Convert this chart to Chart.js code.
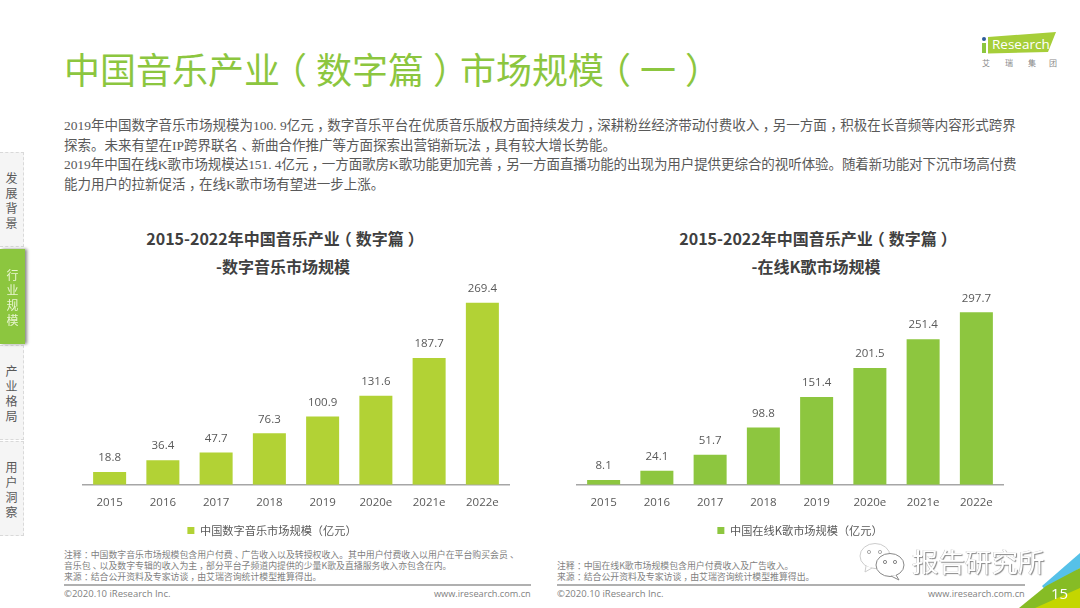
<!DOCTYPE html>
<html lang="zh">
<head>
<meta charset="utf-8">
<title>中国音乐产业（数字篇）市场规模（一）</title>
<script src="https://cdn.jsdelivr.net/npm/chart.js@4/dist/chart.umd.min.js"></script>
<style>
    html, body { margin: 0; padding: 0; background: #fff; }
    body { position: relative; width: 1080px; height: 608px; overflow: hidden; font-family: "Noto Sans CJK SC", sans-serif; }
    .abs { position: absolute; white-space: nowrap; }
    canvas { position: absolute; }

    /* the slide's punctuation sits centred in its full-width cell */
    .pc { display: inline-block; width: 1em; text-align: center; font-family: "Noto Sans CJK SC", sans-serif; font-feature-settings: "halt"; }

    #title { left: 64px; top: 41px; font-size: 36px; line-height: 54px; color: #8CC63F; font-weight: 400; }

    .body-line { left: 64px; font-size: 13.5px; line-height: 20px; color: #595959; font-family: "Liberation Serif", "Noto Sans CJK SC", serif; }

    .chart-title { font-size: 16px; line-height: 28px; font-weight: 700; color: #404040; text-align: center; transform: translateX(-50%); }

    .note { font-size: 8.9px; line-height: 11px; color: #7f7f7f; }
    .foot-line { height: 1.5px; background: #b0b0b0; top: 584px; }
    .foot { top: 587px; font-size: 9.5px; line-height: 14px; color: #7f7f7f; font-family: "Open Sans", sans-serif; }
    .foot.url { font-size: 9.2px; }

    .tab { position: absolute; left: 0; width: 24px; height: 95px; background: #f5f5f5; border: 1px dashed #d9d9d9; border-left: 0; box-sizing: border-box; color: #595959; font-size: 12px; line-height: 15px; text-align: center; display: flex; align-items: center; justify-content: center; }
    .tab.active { background: #8CC63F; color: #e8f5d0; border: 0; width: 25px; box-shadow: 2px 0 3px #888; z-index: 2; }

    #corner, #logo, #wechat { position: absolute; }
    #pageno { left: 1051px; top: 583px; font-size: 15px; line-height: 20px; color: #fff; font-family: "Open Sans", sans-serif; }
    #mark { left: 912px; top: 542px; font-size: 26.5px; line-height: 38px; color: #fff; text-shadow: 1px 1px 1px #888, -0.5px -0.5px 0 #bbb; }
</style>
</head>
<body>

<div class="abs wrap" id="title">中国音乐产业（数字篇）市场规模（一）</div>

<div class="abs body-line wrap" style="top:114px">2019年中国数字音乐市场规模为100. 9亿元，数字音乐平台在优质音乐版权方面持续发力，深耕粉丝经济带动付费收入，另一方面，积极在长音频等内容形式跨界</div>
<div class="abs body-line wrap" style="top:134px">探索。未来有望在IP跨界联名、新曲合作推广等方面探索出营销新玩法，具有较大增长势能。</div>
<div class="abs body-line wrap" style="top:153px;letter-spacing:-0.07px">2019年中国在线K歌市场规模达151. 4亿元，一方面歌房K歌功能更加完善，另一方面直播功能的出现为用户提供更综合的视听体验。随着新功能对下沉市场高付费</div>
<div class="abs body-line wrap" style="top:173px">能力用户的拉新促活，在线K歌市场有望进一步上涨。</div>

<div class="tab" style="top:152px">发<br>展<br>背<br>景</div>
<div class="tab active" style="top:249px">行<br>业<br>规<br>模</div>
<div class="tab" style="top:345px">产<br>业<br>格<br>局</div>
<div class="tab" style="top:441px">用<br>户<br>洞<br>察</div>

<div class="abs chart-title wrap" style="left:283px;top:224px">2015-2022年中国音乐产业（数字篇）<br>-数字音乐市场规模</div>
<div class="abs chart-title wrap" style="left:816px;top:224px">2015-2022年中国音乐产业（数字篇）<br>-在线K歌市场规模</div>

<canvas id="musicChart" width="538" height="275" style="left:0;top:271px"></canvas>
<canvas id="karaokeChart" width="470" height="275" style="left:560px;top:271px"></canvas>

<div class="abs note wrap" style="left:64px;top:549px">注释：中国数字音乐市场规模包含用户付费、广告收入以及转授权收入。其中用户付费收入以用户在平台购买会员、<br>音乐包、以及数字专辑的收入为主，部分平台子频道内提供的少量K歌及直播服务收入亦包含在内。<br>来源：结合公开资料及专家访谈，由艾瑞咨询统计模型推算得出。</div>
<div class="abs note wrap" style="left:557px;top:560px">注释：中国在线K歌市场规模包含用户付费收入及广告收入。<br>来源：结合公开资料及专家访谈，由艾瑞咨询统计模型推算得出。</div>

<div class="abs foot-line" style="left:64px;width:467px"></div>
<div class="abs foot-line" style="left:557px;width:468px"></div>
<div class="abs foot" style="left:64px">©2020.10 iResearch Inc.</div>
<div class="abs foot url" style="left:434px">www.iresearch.com.cn</div>
<div class="abs foot" style="left:557px">©2020.10 iResearch Inc.</div>
<div class="abs foot url" style="left:928px">www.iresearch.com.cn</div>

<svg id="logo" style="left:975px;top:25px" width="95" height="48">
    <polygon points="13,12 81,7 73,27 13,28.5" fill="#A6CE39"/>
    <circle cx="9" cy="14" r="2" fill="#2E5C9A"/>
    <rect x="7" y="18" width="4" height="10" fill="#8CC63F"/>
    <text x="17" y="24" font-family="Open Sans" font-size="13.5" fill="#fff">Research</text>
    <text x="7" y="41" font-family="Noto Sans CJK SC" font-size="8" fill="#888">艾</text>
    <text x="30" y="41" font-family="Noto Sans CJK SC" font-size="8" fill="#888">瑞</text>
    <text x="53" y="41" font-family="Noto Sans CJK SC" font-size="8" fill="#888">集</text>
    <text x="74" y="41" font-family="Noto Sans CJK SC" font-size="8" fill="#888">团</text>
</svg>

<svg id="corner" style="left:1000px;top:545px" width="80" height="63">
    <polygon points="80,8 80,23 46,46 42,41" fill="#56C1E8"/>
    <polygon points="80,23 80,63 19,63 46,41" fill="#86BC25"/>
    <polygon points="80,43 80,63 35,63" fill="#C4D600"/>
</svg>
<div class="abs" id="pageno">15</div>

<svg id="wechat" style="left:858px;top:541px" width="50" height="40">
    <ellipse cx="17" cy="15" rx="15" ry="12.5" fill="#fff" stroke="#ccc"/>
    <path d="M8 25 L7 31 L14 27" fill="#fff" stroke="#ccc"/>
    <circle cx="11" cy="11" r="1.6" fill="#fff" stroke="#aaa"/>
    <circle cx="22" cy="11" r="1.6" fill="#fff" stroke="#aaa"/>
    <ellipse cx="32" cy="24" rx="14" ry="11.5" fill="#fff" stroke="#888"/>
    <path d="M38 34 L41 39 L33 35" fill="#fff" stroke="#888"/>
    <circle cx="27" cy="21" r="1.6" fill="#fff" stroke="#888"/>
    <circle cx="37" cy="21" r="1.6" fill="#fff" stroke="#888"/>
</svg>
<div class="abs" id="mark">报告研究所</div>

<script>
// ===============================
//  DATA
// ===============================
const years = ["2015", "2016", "2017", "2018", "2019", "2020e", "2021e", "2022e"];
const musicValues = [18.8, 36.4, 47.7, 76.3, 100.9, 131.6, 187.7, 269.4];
const karaokeValues = [8.1, 24.1, 51.7, 98.8, 151.4, 201.5, 251.4, 297.7];

const musicLabel = "中国数字音乐市场规模（亿元）";
const karaokeLabel = "中国在线K歌市场规模（亿元）";

// ===============================
//  CENTRE THE PUNCTUATION
// ===============================
document.querySelectorAll(".wrap").forEach(el => {
    el.innerHTML = el.innerHTML.replace(/[（），、：]/g, m => `<span class="pc">${m}</span>`);
});

// ===============================
//  VALUE LABELS ABOVE BARS
// ===============================
const valueLabels = {
    id: "valueLabels",
    afterDatasetsDraw(chart) {
        const ctx = chart.ctx;
        const values = chart.data.datasets[0].data;
        ctx.save();
        ctx.font = "11.5px 'Open Sans'";
        ctx.fillStyle = "#595959";
        ctx.textAlign = "center";
        ctx.textBaseline = "middle";
        chart.getDatasetMeta(0).data.forEach((bar, i) => {
            ctx.fillText(values[i].toFixed(1), bar.x, bar.y - 14);
        });
        ctx.restore();
    }
};

// the legend is not centred under the bars in the slide, nudge it sideways
const legendShift = {
    id: "legendShift",
    beforeDraw(chart, args, opts) {
        chart.legend.left += opts.dx;
        chart.legend.right += opts.dx;
    }
};

// ===============================
//  BUILD BAR CHART
// ===============================
function buildChart(id, label, values, colour, yMax, padLeft, padRight, legendDx) {
    new Chart(document.getElementById(id), {
        type: "bar",
        data: {
            labels: years,
            datasets: [{
                label,
                data: values,
                backgroundColor: colour,
                categoryPercentage: 1,
                barPercentage: 0.62
            }]
        },
        options: {
            responsive: false,
            animation: false,
            layout: { padding: { left: padLeft, right: padRight, top: 11, bottom: 0 } },
            plugins: {
                tooltip: { enabled: false },
                legendShift: { dx: legendDx },
                legend: {
                    position: "bottom",
                    labels: {
                        boxWidth: 7,
                        boxHeight: 7,
                        padding: 8,
                        color: "#595959",
                        font: { size: 11.2, family: "'Noto Sans CJK SC'" }
                    }
                }
            },
            scales: {
                x: {
                    grid: { display: false },
                    border: { color: "#a6a6a6", width: 1.5 },
                    ticks: {
                        color: "#595959",
                        padding: 3,
                        maxRotation: 0,
                        autoSkip: false,
                        font: { size: 11.5, family: "'Open Sans'" }
                    },
                    afterFit(scale) { scale.height = 32; }
                },
                y: { display: false, min: 0, max: yMax }
            }
        },
        plugins: [valueLabels, legendShift]
    });
}

buildChart("musicChart", musicLabel, musicValues, "#B2D235", 300, 83, 29, -24);
buildChart("karaokeChart", karaokeLabel, karaokeValues, "#8DC63F", 350, 17, 27, 10);
</script>
</body>
</html>
